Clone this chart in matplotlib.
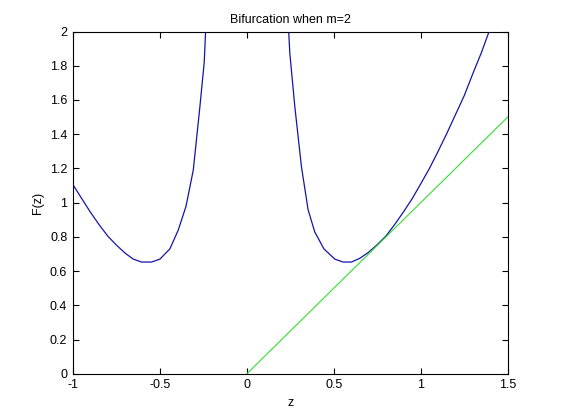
import matplotlib
matplotlib.use("Agg")
from matplotlib import pyplot as plt
import numpy as np

# values
z_left = [-1.0, -0.95, -0.9, -0.85, -0.8, -0.75, -0.7, -0.653, -0.605, -0.548,
          -0.5, -0.443, -0.395, -0.35, -0.308, -0.27, -0.245, -0.22]
F_left = [1.105, 1.025, 0.945, 0.872, 0.805, 0.752, 0.705, 0.67, 0.653, 0.653,
          0.67, 0.729, 0.838, 0.978, 1.19, 1.56, 1.82, 2.4]

z_right = [0.22, 0.247, 0.276, 0.314, 0.352, 0.39, 0.443, 0.506, 0.553,
           0.601, 0.65, 0.7, 0.75, 0.8, 0.85, 0.9, 0.95, 1.0, 1.05, 1.1,
           1.15, 1.2, 1.25, 1.3, 1.35, 1.393, 1.42]
F_right = [2.4, 1.875, 1.56, 1.21, 0.96, 0.83, 0.73, 0.67, 0.653,
           0.653, 0.675, 0.71, 0.755, 0.805, 0.872, 0.945, 1.022, 1.11, 1.2, 1.3,
           1.405, 1.515, 1.625, 1.755, 1.88, 2.0, 2.06]

z_line = [0.0, 1.5]
F_line = [0.0, 1.5]

x_ticks = [-1, -0.5, 0, 0.5, 1, 1.5]
x_ticklabels = ['-1', '-0.5', '0', '0.5', '1', '1.5']
y_ticks = [0, 0.2, 0.4, 0.6, 0.8, 1, 1.2, 1.4, 1.6, 1.8, 2]
y_ticklabels = ['0', '0.2', '0.4', '0.6', '0.8', '1', '1.2', '1.4', '1.6', '1.8', '2']

plt.rcParams['font.family'] = ['Liberation Sans', 'DejaVu Sans']

fig = plt.figure(figsize=(5.61, 4.2), dpi=100)
ax = fig.add_axes([0.13, 0.11, 0.775, 0.815])

ax.plot(z_left, F_left, color='#1414a8', linewidth=0.9)
ax.plot(z_right, F_right, color='#1414a8', linewidth=0.9)
ax.plot(z_line, F_line, color='#33dd33', linewidth=0.8)

ax.set_xlim(-1, 1.5)
ax.set_ylim(0, 2)
ax.set_xticks(x_ticks)
ax.set_xticklabels(x_ticklabels)
ax.set_yticks(y_ticks)
ax.set_yticklabels(y_ticklabels)
ax.tick_params(direction='in', length=4, width=0.8, top=True, right=True,
               labelsize=9, pad=4)
for s in ax.spines.values():
    s.set_linewidth(0.8)

ax.set_title('Bifurcation when m=2', fontsize=9, pad=6)
ax.set_xlabel('z', fontsize=9)
ax.set_ylabel('F(z)', fontsize=9)

fig.savefig('out.png', dpi=100)
